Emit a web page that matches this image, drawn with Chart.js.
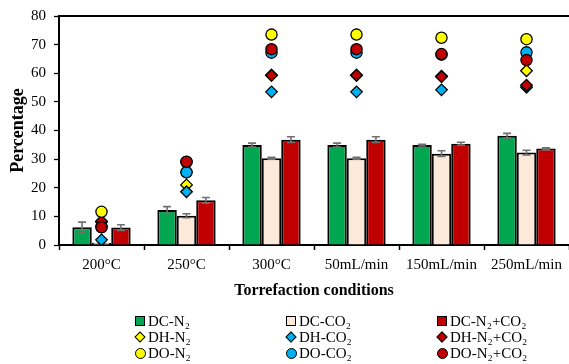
<!DOCTYPE html>
<html>
<head>
<meta charset="utf-8">
<script src="https://cdn.jsdelivr.net/npm/chart.js@4"></script>
<style>
  html, body { margin: 0; padding: 0; background: #fff; }
  #wrap { position: relative; width: 569px; height: 364px; overflow: hidden; }
  #legend { position: absolute; left: 0; top: 0; width: 569px; height: 364px; pointer-events: none;
    font-family: "Liberation Serif", serif; font-size: 15px; color: #000; }
  .item { position: absolute; height: 16px; line-height: 16px; white-space: nowrap; }
  .mk { position: absolute; left: 0; top: 3px; box-sizing: border-box; border: 1.5px solid #000; }
  .sq { width: 10px; height: 10px; }
  .di { width: 8px; height: 8px; left: 1px; top: 4px; transform: rotate(45deg); }
  .ci { width: 11px; height: 11px; border-radius: 50%; top: 2.5px; }
  .lbl { position: absolute; left: 13px; top: 0; }
</style>
</head>
<body>
<div id="wrap">
  <canvas id="chart" width="569" height="364"></canvas>
  <div id="legend"></div>
</div>
<script>
const categories = ["200°C", "250°C", "300°C", "50mL/min", "150mL/min", "250mL/min"];

// bars (DC) with error bars
const dcN2 = [6.2, 12.2, 34.9, 34.9, 34.9, 38.2];
const dcN2Err = [1.8, 1.2, 0.7, 0.7, 0.3, 0.8];
const dcCO2 = [0.8, 10.2, 30.3, 30.3, 31.9, 32.3];
const dcCO2Err = [0.3, 0.7, 0.3, 0.3, 1.0, 0.8];
const dcMix = [6.1, 15.6, 36.8, 36.8, 35.4, 33.7];
const dcMixErr = [1.0, 1.0, 1.0, 1.0, 0.5, 0.3];

// markers (DH, DO)
const dhN2 = [8.0, 21.0, 59.3, 59.3, 59.0, 60.9];
const dhCO2 = [1.8, 18.6, 53.5, 53.5, 54.2, 55.1];
const dhMix = [8.3, 25.4, 59.3, 59.3, 58.8, 55.8];
const doN2 = [11.6, 29.0, 73.5, 73.5, 72.4, 71.9];
const doCO2 = [6.3, 25.4, 67.2, 67.2, 66.5, 67.3];
const doMix = [6.2, 29.1, 68.4, 68.4, 66.7, 64.6];

const yTicks = [0, 10, 20, 30, 40, 50, 60, 70, 80];

const GREEN = "#00A650", PEACH = "#FCE9DA", RED = "#C00000", YELLOW = "#FFFF00", BLUE = "#00B0F0";
const FONT = "Liberation Serif";

const barDs = (label, data, errors, color) => ({
  type: "bar", label, data, errors, backgroundColor: color,
  borderColor: "#000", borderWidth: 2, order: 20
});
const markDs = (label, data, color, style, order) => ({
  type: "line", label, data, showLine: false, pointStyle: style,
  pointRadius: style === "circle" ? 5.6 : 5.8, pointBackgroundColor: color,
  pointBorderColor: "#000", pointBorderWidth: 1.3, backgroundColor: color, borderColor: "#000", order
});

const errorBars = {
  id: "errorBars",
  afterDatasetDraw(chart, args) {
    const ds = chart.data.datasets[args.index];
    if (!ds.errors) return;
    const ctx = chart.ctx, y = chart.scales.y;
    ctx.save();
    ctx.strokeStyle = "#707070";
    ctx.lineWidth = 1.6;
    args.meta.data.forEach((el, i) => {
      const v = ds.data[i], e = ds.errors[i];
      const t = y.getPixelForValue(v + e), b = y.getPixelForValue(Math.max(0, v - e));
      ctx.beginPath();
      ctx.moveTo(el.x, t); ctx.lineTo(el.x, b);
      ctx.moveTo(el.x - 4, t); ctx.lineTo(el.x + 4, t);
      ctx.moveTo(el.x - 4, b); ctx.lineTo(el.x + 4, b);
      ctx.stroke();
    });
    ctx.restore();
  }
};

const topLine = {
  id: "topLine",
  afterDraw(chart) {
    const { ctx, chartArea: a } = chart;
    ctx.save();
    ctx.strokeStyle = "#000";
    ctx.lineWidth = 2;
    ctx.beginPath();
    ctx.moveTo(a.left - 1, a.top); ctx.lineTo(a.right + 2, a.top);
    ctx.stroke();
    ctx.restore();
  }
};

const chart = new Chart(document.getElementById("chart"), {
  data: {
    labels: categories,
    datasets: [
      barDs("DC-N₂", dcN2, dcN2Err, GREEN),
      barDs("DC-CO₂", dcCO2, dcCO2Err, PEACH),
      barDs("DC-N₂+CO₂", dcMix, dcMixErr, RED),
      markDs("DH-N₂", dhN2, YELLOW, "rectRot", 9),
      markDs("DH-CO₂", dhCO2, BLUE, "rectRot", 8),
      markDs("DH-N₂+CO₂", dhMix, RED, "rectRot", 7),
      markDs("DO-N₂", doN2, YELLOW, "circle", 6),
      markDs("DO-CO₂", doCO2, BLUE, "circle", 5),
      markDs("DO-N₂+CO₂", doMix, RED, "circle", 4)
    ]
  },
  options: {
    responsive: false,
    animation: false,
    layout: { autoPadding: false, padding: { top: 16, left: 0, right: 0, bottom: 64 } },
    datasets: { bar: { categoryPercentage: 0.686, barPercentage: 1.0 } },
    plugins: { legend: { display: false }, tooltip: { enabled: false } },
    scales: {
      x: {
        offset: true,
        grid: { offset: true, drawOnChartArea: false, color: "#000", tickLength: 5, tickWidth: 1.5 },
        border: { color: "#000", width: 2 },
        ticks: { color: "#000", font: { family: FONT, size: 15 }, padding: 6, maxRotation: 0 },
        title: { display: true, text: "Torrefaction conditions", color: "#000",
          font: { family: FONT, size: 16, weight: "bold" }, padding: { top: 2, bottom: 0 } },
        afterFit(s) { s.height = 55; s.paddingLeft = 0; s.paddingRight = 0; }
      },
      y: {
        min: 0, max: 80,
        afterBuildTicks(s) {
          s.ticks = [];
          for (let v = 0; v <= 80; v += 5) s.ticks.push({ value: v });
        },
        grid: { drawOnChartArea: false, color: "#000", tickLength: 5, tickWidth: 1.3 },
        border: { color: "#000", width: 2 },
        ticks: { color: "#000", font: { family: FONT, size: 15 }, padding: 8,
          callback: v => yTicks.includes(v) ? String(v) : "" },
        title: { display: true, text: "Percentage", color: "#000",
          font: { family: FONT, size: 18, weight: "bold" }, padding: { top: 8, bottom: 0 } },
        afterFit(s) { s.width = 59; s.paddingTop = 0; s.paddingBottom = 0; }
      }
    }
  },
  plugins: [errorBars, topLine]
});

// legend in 3 columns, built from the datasets
const legendCols = [135, 286, 437];
const legendRows = [313, 329, 345];
const legend = document.getElementById("legend");
chart.data.datasets.forEach((ds, i) => {
  const col = i % 3, row = Math.floor(i / 3);
  const item = document.createElement("div");
  item.className = "item";
  item.style.left = legendCols[col] + "px";
  item.style.top = legendRows[row] + "px";
  const mk = document.createElement("span");
  const shape = ds.type === "bar" ? "sq" : (ds.pointStyle === "circle" ? "ci" : "di");
  mk.className = "mk " + shape;
  mk.style.background = ds.backgroundColor;
  const lbl = document.createElement("span");
  lbl.className = "lbl";
  lbl.textContent = ds.label;
  item.appendChild(mk);
  item.appendChild(lbl);
  legend.appendChild(item);
});
</script>
</body>
</html>
